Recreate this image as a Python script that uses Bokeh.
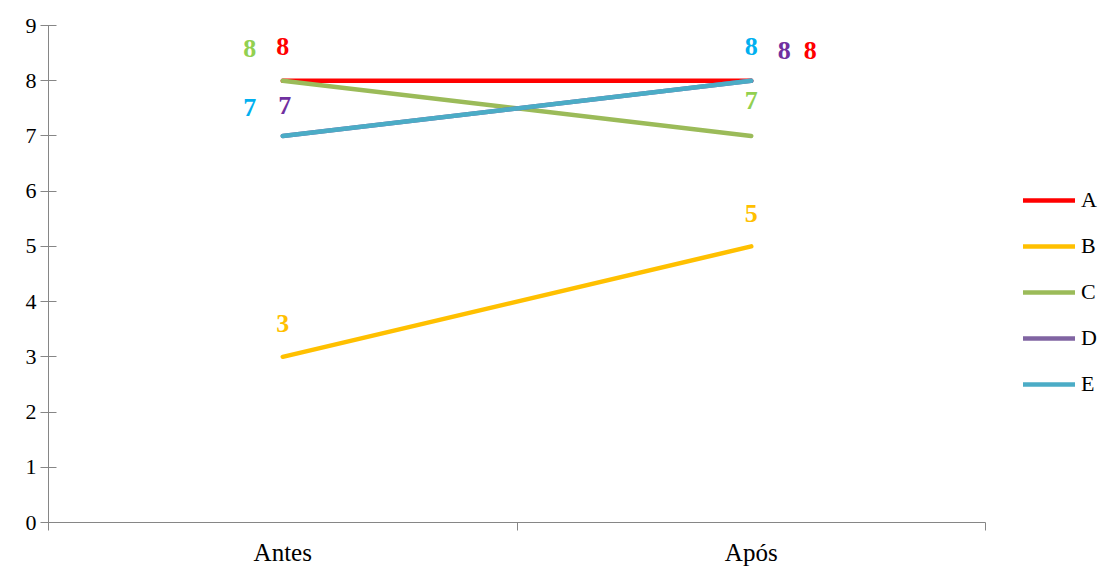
from bokeh.plotting import figure
from bokeh.models import Range1d, FixedTicker, Legend, LegendItem, ColumnDataSource
from bokeh.core.properties import value
from bokeh.embed import file_html
from bokeh.resources import INLINE

categories = ["Antes", "Após"]
series = ["A", "B", "C", "D", "E"]
antes = [8, 3, 8, 7, 7]
apos = [8, 5, 7, 8, 8]

line_colors = ["#FF0000", "#FFC000", "#9BBB59", "#8064A2", "#4BACC6"]
label_colors = ["#FF0000", "#FFC000", "#92D050", "#7030A0", "#00B0F0"]
# pixel offsets of the value labels (style only)
antes_dx = [0, 0, -33, 2, -33]
antes_dy = [34, 33, 32, 30, 28]
apos_dx = [59, 0, 0, 33, 0]
apos_dy = [30, 33, 35, 30, 34]

FONT = "Liberation Serif"

p = figure(frame_width=937, frame_height=497, output_backend="svg", toolbar_location=None,
           x_range=Range1d(0, 2), y_range=Range1d(0, 9),
           min_border_left=48, min_border_right=0, min_border_top=25, min_border_bottom=43)
p.outline_line_color = None
p.xgrid.visible = False
p.ygrid.visible = False
p.background_fill_color = "white"

xs = [i + 0.5 for i in range(len(categories))]

renderers = []
for i, s in enumerate(series):
    r = p.line(xs, [antes[i], apos[i]], line_color=line_colors[i], line_width=4.5, line_cap="round")
    renderers.append(r)

# value labels
tx, ty, tt, tc, ox, oy = [], [], [], [], [], []
for i in range(len(series)):
    for xi, vals, dxs, dys in ((xs[0], antes, antes_dx, antes_dy), (xs[1], apos, apos_dx, apos_dy)):
        tx.append(xi); ty.append(vals[i]); tt.append(str(vals[i])); tc.append(label_colors[i])
        ox.append(dxs[i]); oy.append(-dys[i])
src = ColumnDataSource(dict(x=tx, y=ty, t=tt, c=tc, ox=ox, oy=oy))
p.text(x="x", y="y", text="t", text_color="c", x_offset="ox", y_offset="oy", source=src,
       text_font=value(FONT), text_font_style="bold", text_font_size="26px",
       text_align="center", text_baseline="middle")

axis_color = "#868686"
# x axis
p.xaxis.ticker = FixedTicker(ticks=xs, minor_ticks=[0, 1, 2])
p.xaxis.major_label_overrides = {xs[i]: categories[i] for i in range(len(categories))}
p.xaxis.major_tick_in = 0
p.xaxis.major_tick_out = 0
p.xaxis.minor_tick_in = 0
p.xaxis.minor_tick_out = 8
p.xaxis.minor_tick_line_color = axis_color
p.xaxis.axis_line_color = axis_color
p.xaxis.major_label_text_font = FONT
p.xaxis.major_label_text_font_size = "25px"
p.xaxis.major_label_text_color = "#000000"
p.xaxis.major_label_standoff = 8

# y axis
p.yaxis.ticker = FixedTicker(ticks=list(range(10)))
p.yaxis.major_tick_in = 8
p.yaxis.major_tick_out = 8
p.yaxis.minor_tick_line_color = None
p.yaxis.major_tick_line_color = axis_color
p.yaxis.axis_line_color = axis_color
p.yaxis.major_label_text_font = FONT
p.yaxis.major_label_text_font_size = "22px"
p.yaxis.major_label_text_color = "#000000"
p.yaxis.major_label_standoff = 4

legend = Legend(items=[LegendItem(label=s, renderers=[renderers[i]]) for i, s in enumerate(series)],
                location="center_left", orientation="vertical",
                title=" ", title_text_font_size="21px", title_standoff=12,
                label_text_font=FONT, label_text_font_size="22px", label_text_color="#000000",
                glyph_width=52, glyph_height=20, label_height=20, spacing=20, label_standoff=6,
                padding=0, margin=38, border_line_color=None, background_fill_alpha=0)
p.add_layout(legend, "right")

open("out.html", "w").write(file_html(p, INLINE))
